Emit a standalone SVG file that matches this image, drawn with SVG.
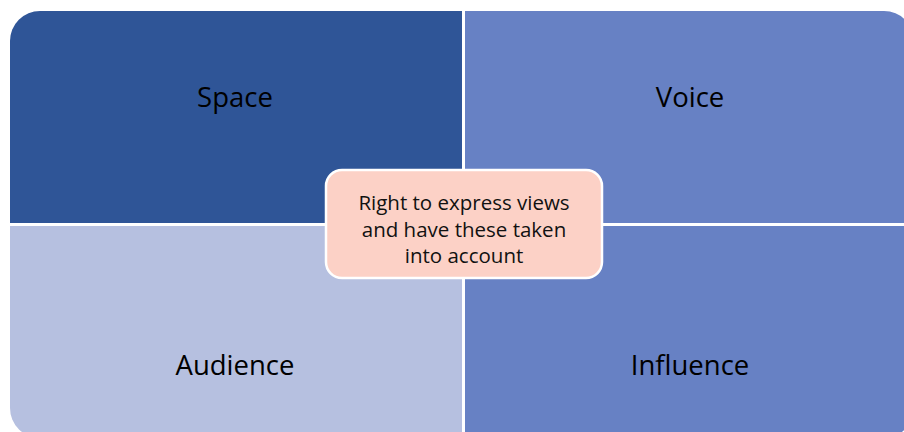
<svg xmlns="http://www.w3.org/2000/svg" width="904" height="432" viewBox="0 0 904 432">
<style>
.q{font-family:"Open Sans","Noto Sans","Liberation Sans",sans-serif;font-size:27.5px;fill:#000;text-anchor:middle}
.c{font-family:"Open Sans","Noto Sans","Liberation Sans",sans-serif;font-size:20.5px;fill:#111;text-anchor:middle}
</style>
<rect width="904" height="432" fill="#fff"/>
<g id="space">
<path d="M10,41 A30,30 0 0 1 40,11 L462,11 L462,223 L10,223 Z" fill="#2F5597"/>
<text class="q" x="235" y="107">Space</text>
</g>
<g id="voice">
<path d="M465,11 L884,11 A30,30 0 0 1 914,41 L914,223 L465,223 Z" fill="#6781C4"/>
<text class="q" x="690" y="107">Voice</text>
</g>
<g id="audience">
<path d="M10,226 L462,226 L462,438 L40,438 A30,30 0 0 1 10,408 Z" fill="#B6C0E0"/>
<text class="q" x="235" y="375">Audience</text>
</g>
<g id="influence">
<path d="M465,226 L914,226 L914,408 A30,30 0 0 1 884,438 L465,438 Z" fill="#6781C4"/>
<text class="q" x="690" y="375">Influence</text>
</g>
<g id="center">
<rect x="326" y="170" width="276" height="108" rx="16" fill="#FCD1C6" stroke="#fff" stroke-width="2.5"/>
<text class="c" x="464" y="210">Right to express views</text>
<text class="c" x="464" y="237">and have these taken</text>
<text class="c" x="464" y="263">into account</text>
</g>
<g id="connectors"/>
</svg>
